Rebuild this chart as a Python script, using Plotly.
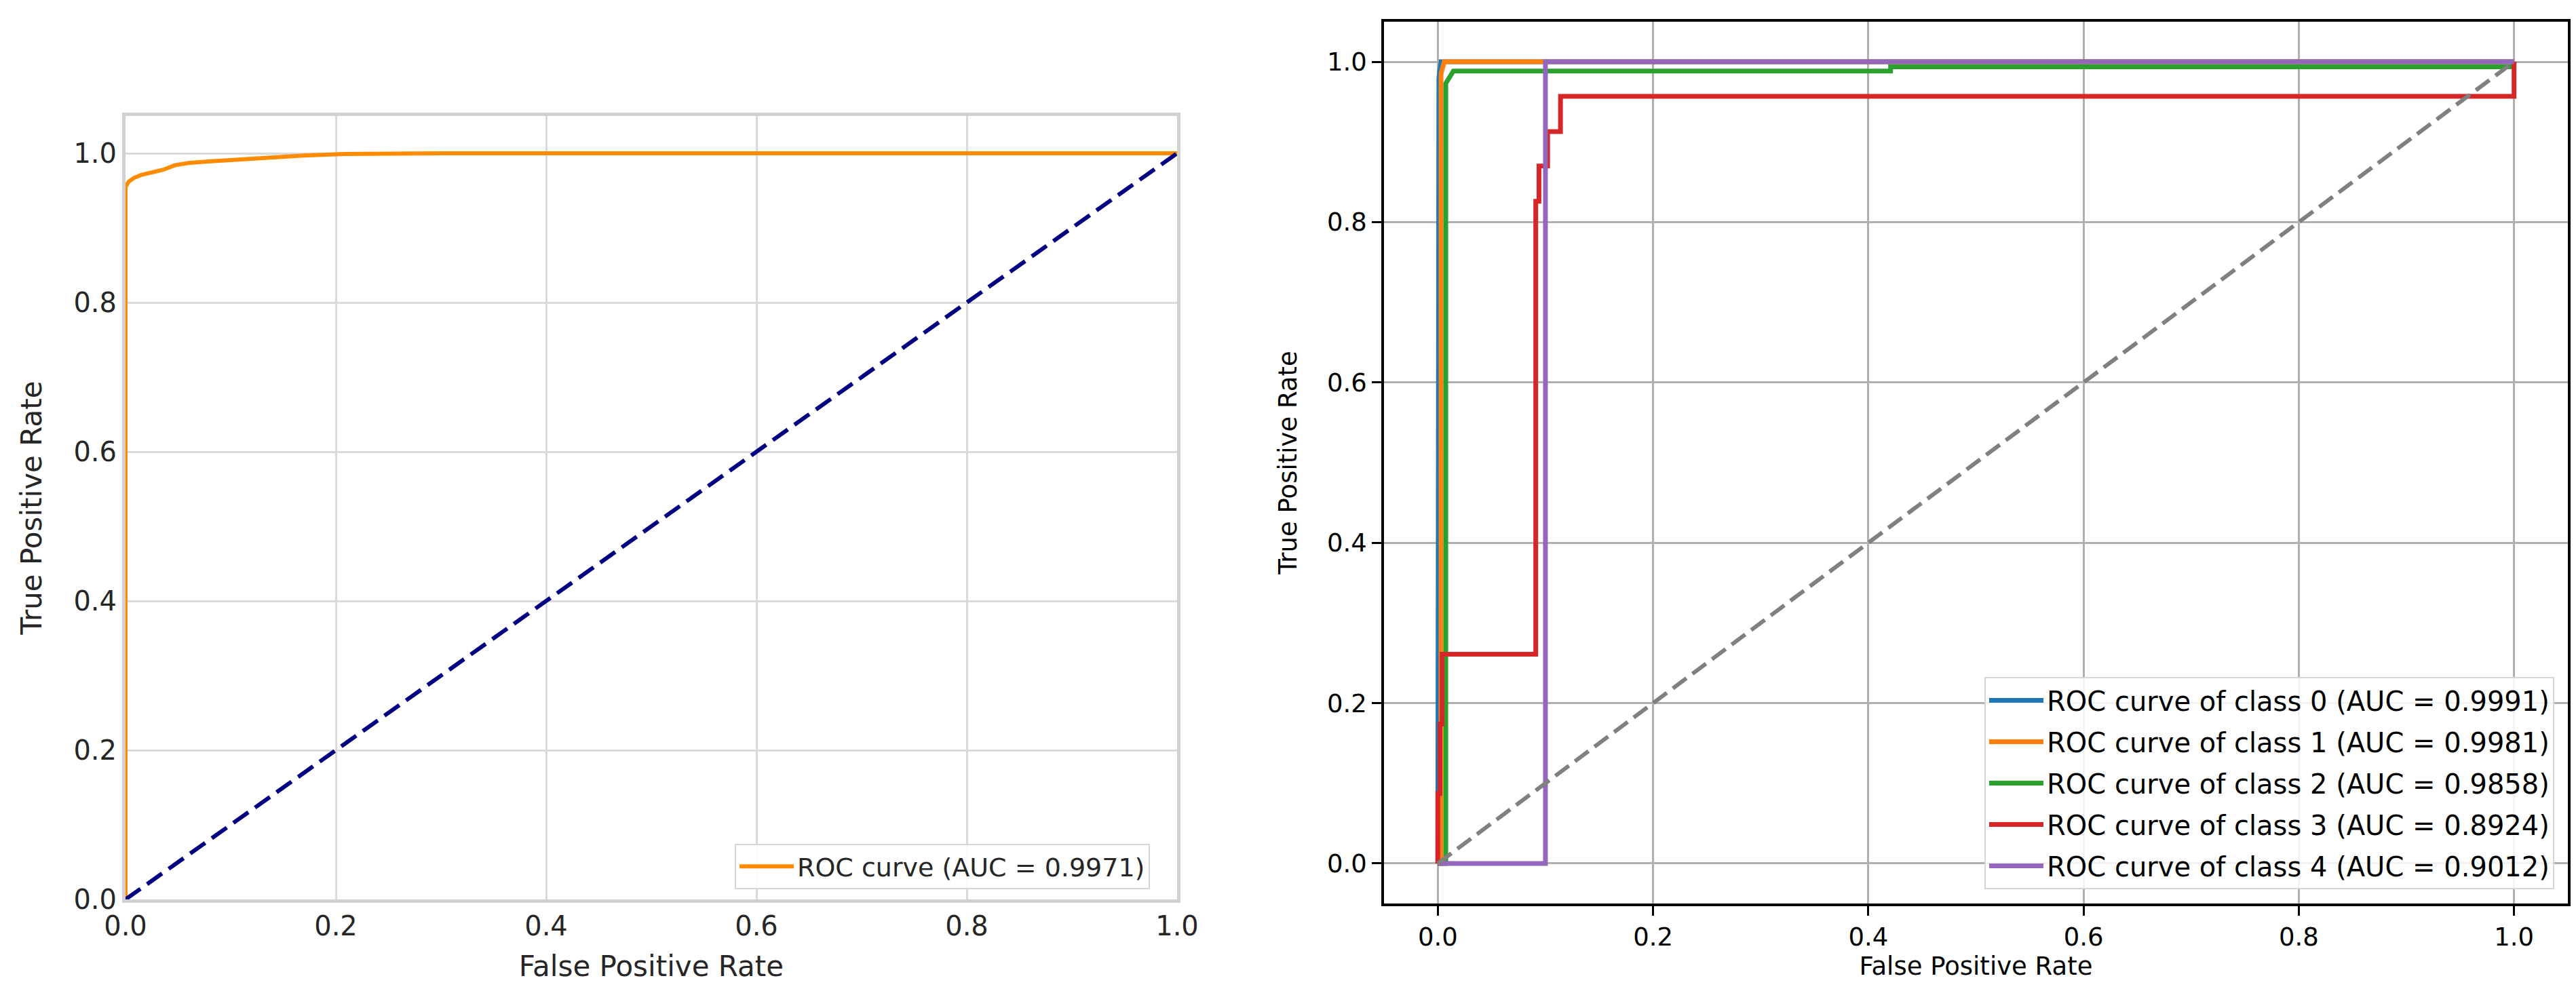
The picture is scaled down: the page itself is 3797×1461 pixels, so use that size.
import plotly.graph_objects as go

# ---------------- data ----------------
# Left panel: single ROC curve
roc_fpr = [0.0, 0.0, 0.003, 0.008, 0.015, 0.025, 0.036, 0.047, 0.06, 0.079, 0.1, 0.144, 0.17, 0.208, 0.3, 0.5, 0.8, 1.0]
roc_tpr = [0.0, 0.955, 0.962, 0.967, 0.971, 0.975, 0.978, 0.984, 0.987, 0.989, 0.991, 0.995, 0.997, 0.999, 1.0, 1.0, 1.0, 1.0]
roc_label = "ROC curve (AUC = 0.9971)"
chance = [0.0, 1.0]

# Right panel: per-class ROC curves
class_fpr = {
    0: [0.0, 0.0, 0.001, 0.003, 1.0],
    1: [0.0, 0.003, 0.003, 0.006, 1.0],
    2: [0.0, 0.0074, 0.0074, 0.0145, 0.4207, 0.4207, 1.0, 1.0],
    3: [0.0, 0.0, 0.002, 0.002, 0.004, 0.004, 0.091, 0.091, 0.094, 0.094,
        0.102, 0.102, 0.114, 0.114, 1.0, 1.0],
    4: [0.0, 0.1, 0.1, 1.0],
}
class_tpr = {
    0: [0.0, 0.17, 0.98, 1.0, 1.0],
    1: [0.0, 0.0, 0.985, 1.0, 1.0],
    2: [0.0, 0.0, 0.973, 0.9885, 0.9885, 0.9937, 0.9937, 1.0],
    3: [0.0, 0.087, 0.087, 0.174, 0.174, 0.261, 0.261, 0.826, 0.826, 0.870,
        0.870, 0.913, 0.913, 0.957, 0.957, 1.0],
    4: [0.0, 0.0, 1.0, 1.0],
}
class_auc = {0: "0.9991", 1: "0.9981", 2: "0.9858", 3: "0.8924", 4: "0.9012"}
class_colors = {0: "#1f77b4", 1: "#ff7f0e", 2: "#2ca02c", 3: "#d62728", 4: "#9467bd"}

ticks = [0.0, 0.2, 0.4, 0.6, 0.8, 1.0]

W, H = 3797, 1461
FONT = "DejaVu Sans"

# plot area (pixels) -> margins
ML, MR, MT, MB = 177, W - 3777, 24, H - 1324
PW, PH = W - ML - MR, H - MT - MB


def dx(px):
    return (px - ML) / PW


def dy(py):
    return (H - MB - py) / PH


fig = go.Figure()

# ---------------- left panel ----------------
fig.add_trace(go.Scatter(
    x=roc_fpr, y=roc_tpr, mode="lines", name=roc_label,
    line=dict(color="darkorange", width=6),
    xaxis="x", yaxis="y", legend="legend",
))
fig.add_trace(go.Scatter(
    x=chance, y=chance, mode="lines", showlegend=False,
    line=dict(color="navy", width=6, dash="27px,12px"),
    xaxis="x", yaxis="y",
))

# ---------------- right panel ----------------
for k in range(5):
    fig.add_trace(go.Scatter(
        x=class_fpr[k], y=class_tpr[k], mode="lines",
        name=f"ROC curve of class {k} (AUC = {class_auc[k]})",
        line=dict(color=class_colors[k], width=7),
        xaxis="x2", yaxis="y2", legend="legend2", legendgroup=f"c{k}",
    ))
fig.add_trace(go.Scatter(
    x=chance, y=chance, mode="lines", showlegend=False,
    line=dict(color="gray", width=6, dash="25px,11px"),
    xaxis="x2", yaxis="y2",
))

left_text = "#262626"
fig.update_layout(
    width=W, height=H, autosize=False,
    margin=dict(l=ML, r=MR, t=MT, b=MB, autoexpand=False),
    paper_bgcolor="white", plot_bgcolor="white",
    font=dict(family=FONT, size=40, color=left_text),
    xaxis=dict(
        domain=[dx(177), dx(1727)], range=[0, 1], anchor="y",
        tickvals=ticks, tickformat=".1f", automargin=False,
        showgrid=True, gridcolor="#dadada", gridwidth=3,
        showline=True, linecolor="#d0d0d0", linewidth=5, mirror=True,
        ticks="", zeroline=False,
        tickfont=dict(size=40, color=left_text),
        title=dict(text="False Positive Rate", font=dict(size=42, color=left_text), standoff=24),
    ),
    yaxis=dict(
        domain=[dy(1318), dy(163)], range=[0, 1.05], anchor="x",
        tickvals=ticks, tickformat=".1f", automargin=False,
        showgrid=True, gridcolor="#dadada", gridwidth=3,
        showline=True, linecolor="#d0d0d0", linewidth=5, mirror=True,
        ticks="", zeroline=False,
        tickfont=dict(size=40, color=left_text),
        title=dict(text="True Positive Rate", font=dict(size=42, color=left_text), standoff=35),
    ),
    xaxis2=dict(
        domain=[dx(2032), dx(3777)], range=[-0.05, 1.05], anchor="y2",
        tickvals=ticks, tickformat=".1f", automargin=False,
        showgrid=True, gridcolor="#b0b0b0", gridwidth=2.5,
        showline=True, linecolor="black", linewidth=3.5, mirror=True,
        ticks="outside", ticklen=14, tickwidth=3, tickcolor="black",
        zeroline=False,
        tickfont=dict(size=37, color="black"),
        title=dict(text="False Positive Rate", font=dict(size=37, color="black"), standoff=4),
    ),
    yaxis2=dict(
        domain=[dy(1324), dy(24)], range=[-0.05, 1.05], anchor="x2",
        tickvals=ticks, tickformat=".1f", automargin=False,
        showgrid=True, gridcolor="#b0b0b0", gridwidth=2.5,
        showline=True, linecolor="black", linewidth=3.5, mirror=True,
        ticks="outside", ticklen=14, tickwidth=3, tickcolor="black",
        zeroline=False,
        tickfont=dict(size=37, color="black"),
        title=dict(text="True Positive Rate", font=dict(size=37, color="black"), standoff=34),
    ),
    legend=dict(
        x=dx(1687), y=dy(1303), xanchor="right", yanchor="bottom",
        bgcolor="rgba(255,255,255,0.85)", bordercolor="#d6d6d6", borderwidth=2,
        font=dict(size=38, color=left_text), itemwidth=80,
    ),
    legend2=dict(
        x=dx(3757), y=dy(1303), xanchor="right", yanchor="bottom",
        bgcolor="rgba(255,255,255,0.85)", bordercolor="#d6d6d6", borderwidth=2,
        font=dict(size=40, color="black"), itemwidth=80, tracegroupgap=6,
    ),
)

fig.write_html("out.html")
